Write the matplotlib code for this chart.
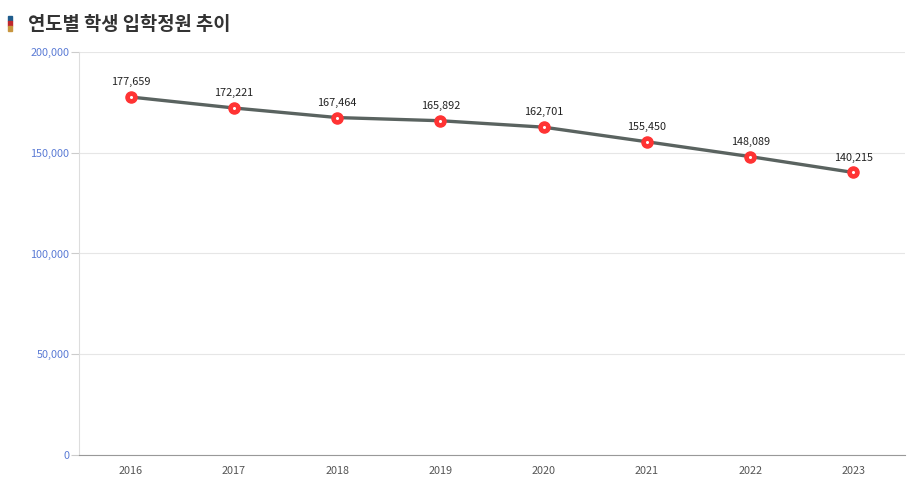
import matplotlib
matplotlib.use("Agg")
import matplotlib.pyplot as plt
import matplotlib.patches as patches

plt.rcParams['font.family'] = ['Noto Sans CJK KR', 'DejaVu Sans']

# Data
years = ['2016', '2017', '2018', '2019', '2020', '2021', '2022', '2023']
quota = [177659, 172221, 167464, 165892, 162701, 155450, 148089, 140215]
y_ticks = [0, 50000, 100000, 150000, 200000]
y_tick_labels = ['0', '50,000', '100,000', '150,000', '200,000']

fig = plt.figure(figsize=(9.2, 4.96), dpi=100)
ax = fig.add_axes([79/920, 41/496, 826/920, 403/496])

x = list(range(len(years)))
ax.plot(x, quota, color='#5a6360', linewidth=2.4, zorder=2)
ax.plot(x, quota, 'o', color='#ff3333', markersize=8, zorder=3)
ax.plot(x, quota, 'o', color='white', markersize=1.2, zorder=4)

for xi, v in zip(x, quota):
    ax.annotate(f'{v:,}', (xi, v), xytext=(0, 7), textcoords='offset points',
                ha='center', va='bottom', fontsize=7.8, color='#222222')

ax.set_xlim(-0.5, len(years) - 0.5)
ax.set_ylim(0, 200000)
ax.set_xticks(x)
ax.set_xticklabels(years, fontsize=7.8, color='#555555')
ax.set_yticks(y_ticks)
ax.set_yticklabels(y_tick_labels, fontsize=7.8, color='#5b7bd5')
ax.tick_params(axis='x', length=0, pad=8)
ax.tick_params(axis='y', length=6, color='#cccccc', pad=1)

ax.grid(axis='y', color='#e6e6e6', linewidth=0.8)
ax.set_axisbelow(True)
for s in ['top', 'right']:
    ax.spines[s].set_visible(False)
ax.spines['left'].set_color('#dddddd')
ax.spines['bottom'].set_color('#999999')

# title with coloured marker
for i, c in enumerate(['#1f5c8c', '#c0272d', '#c8963e']):
    top = 16 + i * 5
    fig.patches.append(patches.Rectangle((8/920, 1 - (top + 5)/496), 4/920, 5/496,
                                         transform=fig.transFigure, color=c))
fig.text(28/920, 1 - 24/496, '연도별 학생 입학정원 추이',
         fontsize=13.5, fontweight='bold', color='#333333', va='center', ha='left')

fig.savefig('out.png', dpi=100)
